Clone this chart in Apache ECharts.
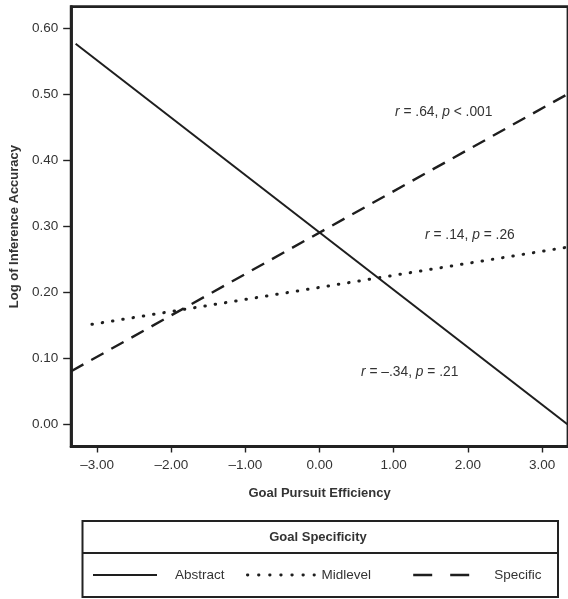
<!DOCTYPE html>
<html>
<head>
<meta charset="utf-8">
<script src="https://cdn.jsdelivr.net/npm/echarts@6/dist/echarts.min.js"></script>
<style>
html,body{margin:0;padding:0;background:#fff;}
#chart{width:568px;height:599px;}
</style>
</head>
<body>
<div id="chart"></div>
<script>
// ---- data ----
var seriesNames = ['Abstract', 'Midlevel', 'Specific'];
var abstractData = [[-3.29, 0.577], [3.35, 0.000]];
var midlevelData = [[-3.07, 0.152], [3.35, 0.269]];
var specificData = [[-3.35, 0.081], [3.35, 0.501]];
var xTicks = [-3, -2, -1, 0, 1, 2, 3];
var yTicks = [0, 0.1, 0.2, 0.3, 0.4, 0.5, 0.6];
var xTitle = 'Goal Pursuit Efficiency';
var yTitle = 'Log of Inference Accuracy';
var legendTitle = 'Goal Specificity';
var annotations = [
  '{i|r} = .64, {i|p} < .001',
  '{i|r} = .14, {i|p} = .26',
  '{i|r} = \u2013.34, {i|p} = .21'
];

var FONT = '"Liberation Sans", Arial, Helvetica, sans-serif';
var TXT = '#333';
var INK = '#1e1e1e';

var chart = echarts.init(document.getElementById('chart'), null, {renderer: 'canvas'});

function fmt(v) {
  var s = Math.abs(v).toFixed(2);
  return (v < 0 ? '\u2013' : '') + s;
}

var hiddenSymbol = {color: 'rgba(0,0,0,0)', borderWidth: 0, opacity: 0};
var annStyle = function (t) {
  return {text: t, font: '13.8px ' + FONT, fill: TXT,
          rich: {i: {fontStyle: 'italic', fontSize: 13.8, fontFamily: FONT, fill: TXT}}};
};

var option = {
  animation: false,
  backgroundColor: '#fff',
  grid: {
    left: 70, right: -6, top: 6.7, bottom: 152.5,
    show: true, borderColor: '#222', borderWidth: 2.8, containLabel: false
  },
  xAxis: {
    type: 'value', min: -3.35, max: 3.35,
    splitLine: {show: false},
    axisLine: {show: true, onZero: false, lineStyle: {color: '#222', width: 2.8}},
    axisTick: {show: true, length: 6, lineStyle: {color: '#222', width: 1.4}, customValues: xTicks},
    axisLabel: {margin: 12, color: TXT, fontSize: 13.5, fontFamily: FONT, customValues: xTicks, formatter: fmt},
    name: xTitle, nameLocation: 'middle', nameGap: 40,
    nameTextStyle: {fontWeight: 'bold', fontSize: 13, color: TXT, fontFamily: FONT}
  },
  yAxis: {
    type: 'value', min: -0.033, max: 0.633,
    splitLine: {show: false},
    axisLine: {show: true, onZero: false, lineStyle: {color: '#222', width: 2.8}},
    axisTick: {show: true, length: 8, lineStyle: {color: '#222', width: 1.4}, customValues: yTicks},
    axisLabel: {margin: 13, color: TXT, fontSize: 13.5, fontFamily: FONT, customValues: yTicks, formatter: function (v) { return v.toFixed(2); }},
    name: yTitle, nameLocation: 'middle', nameGap: 50, nameRotate: 90,
    nameTextStyle: {fontWeight: 'bold', fontSize: 13, color: TXT, fontFamily: FONT}
  },
  legend: [
    {data: [seriesNames[0]], left: 92, top: 568, padding: 0, itemWidth: 64, itemHeight: 14, selectedMode: false,
     itemStyle: hiddenSymbol,
     lineStyle: {width: 2}, textStyle: {fontSize: 13.5, color: TXT, fontFamily: FONT, padding: [0, 0, 0, 13]}},
    {data: [seriesNames[1]], left: 246, top: 568, padding: 0, itemWidth: 67, itemHeight: 14, selectedMode: false,
     itemStyle: hiddenSymbol,
     lineStyle: {width: 2.8, type: [0.5, 10.6], cap: 'round'}, textStyle: {fontSize: 13.5, color: TXT, fontFamily: FONT, padding: [0, 0, 0, 2]}},
    {data: [seriesNames[2]], left: 412, top: 568, padding: 0, itemWidth: 58, itemHeight: 14, selectedMode: false,
     itemStyle: hiddenSymbol,
     lineStyle: {width: 2.4, type: [19, 18]}, textStyle: {fontSize: 13.5, color: TXT, fontFamily: FONT, padding: [0, 0, 0, 18]}}
  ],
  series: [
    {name: seriesNames[0], type: 'line', data: abstractData, symbol: 'none', silent: true, clip: true,
     lineStyle: {color: INK, width: 2, type: 'solid'}, itemStyle: {color: INK}},
    {name: seriesNames[1], type: 'line', data: midlevelData, symbol: 'none', silent: true, clip: true,
     lineStyle: {color: INK, width: 3, type: [0.5, 9.9], cap: 'round'}, itemStyle: {color: INK}},
    {name: seriesNames[2], type: 'line', data: specificData, symbol: 'none', silent: true, clip: true,
     lineStyle: {color: INK, width: 2.4, type: [14, 9]}, itemStyle: {color: INK}}
  ],
  graphic: [
    {type: 'text', left: 395, top: 105, silent: true, style: annStyle(annotations[0])},
    {type: 'text', left: 425, top: 228, silent: true, style: annStyle(annotations[1])},
    {type: 'text', left: 361, top: 365, silent: true, style: annStyle(annotations[2])},
    {type: 'rect', silent: true, z: 0,
     shape: {x: 82.5, y: 521, width: 475.5, height: 76},
     style: {fill: 'none', stroke: '#222', lineWidth: 2}},
    {type: 'line', silent: true,
     shape: {x1: 82.5, y1: 553, x2: 558, y2: 553},
     style: {stroke: '#222', lineWidth: 2}},
    {type: 'text', silent: true, x: 318, y: 537,
     style: {text: legendTitle, font: 'bold 13px ' + FONT, fill: TXT, align: 'center', verticalAlign: 'middle'}}
  ]
};
chart.setOption(option);
</script>
</body>
</html>
